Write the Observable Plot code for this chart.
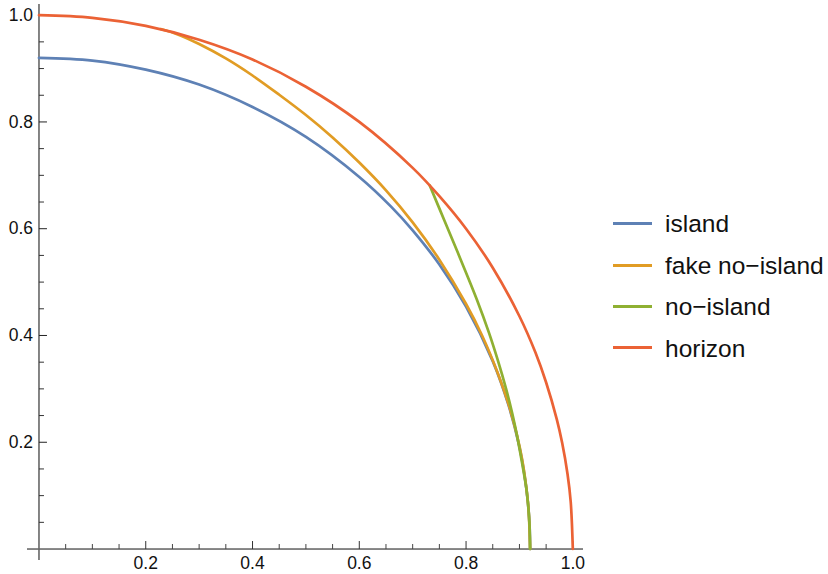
<!DOCTYPE html>
<html>
<head>
<meta charset="utf-8">
<script src="https://cdn.jsdelivr.net/npm/d3@7"></script>
<script src="https://cdn.jsdelivr.net/npm/@observablehq/plot@0.6"></script>
<style>
  body { margin: 0; background: #fff; }
  #wrap { position: relative; width: 828px; height: 574px; font-family: "Liberation Sans", Arial, sans-serif; }
  #plot { position: absolute; left: 0; top: 0; }
  #legend { position: absolute; left: 613px; top: 203px; }
  .item { display: flex; align-items: center; height: 41.4px; }
  .swatch { width: 39px; height: 3px; margin-right: 13px; }
  .label { font-size: 24.5px; color: #111; line-height: 1; position: relative; top: 1px; }
</style>
</head>
<body>
<div id="wrap"><div id="plot"></div><div id="legend"></div></div>
<script>
// Series names and colours
const seriesNames = ["island", "fake no\u2212island", "no\u2212island", "horizon"];
const seriesColors = ["#5E81B5", "#E19C24", "#8FB032", "#EB6235"];

// island
const islandX = [0, 0.1, 0.2, 0.3, 0.4, 0.5, 0.6, 0.66, 0.7, 0.75, 0.8, 0.85, 0.88, 0.9, 0.91, 0.916, 0.919, 0.92];
const islandY = [0.92, 0.915, 0.898, 0.87, 0.828, 0.772, 0.697, 0.641, 0.597, 0.533, 0.454, 0.352, 0.268, 0.191, 0.135, 0.086, 0.043, 0];

// fake no-island
const fakeX = [0.228, 0.26, 0.3, 0.35, 0.4, 0.45, 0.5, 0.55, 0.6, 0.65, 0.7, 0.75, 0.8, 0.83, 0.86, 0.88, 0.895, 0.905, 0.912, 0.917, 0.92];
const fakeY = [0.974, 0.964, 0.946, 0.919, 0.887, 0.851, 0.813, 0.771, 0.724, 0.672, 0.612, 0.542, 0.459, 0.4, 0.328, 0.27, 0.215, 0.168, 0.122, 0.075, 0];

// no-island
const noIslandX = [0.732, 0.76, 0.79, 0.82, 0.843, 0.86, 0.875, 0.887, 0.896, 0.903, 0.909, 0.913, 0.917, 0.919, 0.92];
const noIslandY = [0.681, 0.614, 0.542, 0.468, 0.405, 0.352, 0.3, 0.252, 0.21, 0.172, 0.138, 0.113, 0.074, 0.043, 0];

// horizon
const horizonX = [0, 0.1, 0.2, 0.3, 0.4, 0.5, 0.6, 0.7, 0.75, 0.8, 0.85, 0.9, 0.93, 0.95, 0.97, 0.98, 0.99, 0.996, 1.0];
const horizonY = [1, 0.995, 0.98, 0.954, 0.917, 0.866, 0.8, 0.714, 0.661, 0.6, 0.527, 0.436, 0.368, 0.312, 0.243, 0.199, 0.141, 0.089, 0];

// ticks
const xMajor = [0.2, 0.4, 0.6, 0.8, 1.0];
const xMinor = [0.05, 0.1, 0.15, 0.25, 0.3, 0.35, 0.45, 0.5, 0.55, 0.65, 0.7, 0.75, 0.85, 0.9, 0.95];
const yMajor = [0.2, 0.4, 0.6, 0.8, 1.0];
const yMinor = [0.05, 0.1, 0.15, 0.25, 0.3, 0.35, 0.45, 0.5, 0.55, 0.65, 0.7, 0.75, 0.85, 0.9, 0.95];
const tickLabels = ["0.2", "0.4", "0.6", "0.8", "1.0"];

const toPts = (xs, ys) => xs.map((x, i) => ({x, y: ys[i]}));
const series = [toPts(islandX, islandY), toPts(fakeX, fakeY), toPts(noIslandX, noIslandY), toPts(horizonX, horizonY)];

const tickSym = (dx, dy) => ({draw(ctx) { ctx.moveTo(0, 0); ctx.lineTo(dx, dy); }});

const fontFamily = "'Liberation Sans', Arial, sans-serif";

const chart = Plot.plot({
  width: 600,
  height: 574,
  marginLeft: 27,
  marginRight: 17,
  marginTop: 4,
  marginBottom: 14,
  style: {fontFamily, background: "transparent"},
  x: {domain: [-0.0215, 1.02], axis: null},
  y: {domain: [-0.0215, 1.02], axis: null},
  marks: [
    Plot.ruleY([0], {stroke: "#111", strokeWidth: 1}),
    Plot.ruleX([0], {stroke: "#666", strokeWidth: 1.6}),
    Plot.dot(xMajor, {x: d => d, y: 0, symbol: tickSym(0, -8), stroke: "#333", fill: "none", strokeWidth: 1}),
    Plot.dot(xMinor, {x: d => d, y: 0, symbol: tickSym(0, -5), stroke: "#444", fill: "none", strokeWidth: 1}),
    Plot.dot(yMajor, {x: 0, y: d => d, symbol: tickSym(8, 0), stroke: "#222", fill: "none", strokeWidth: 1}),
    Plot.dot(yMinor, {x: 0, y: d => d, symbol: tickSym(5, 0), stroke: "#333", fill: "none", strokeWidth: 1}),
    Plot.text(xMajor, {x: d => d, y: 0, text: (d, i) => tickLabels[i], dy: 14.5, fontSize: 17.5, fill: "#111"}),
    Plot.text(yMajor, {x: 0, y: d => d, text: (d, i) => tickLabels[i], dx: -6, textAnchor: "end", fontSize: 17.5, fill: "#111"}),
    ...series.map((pts, k) => Plot.line(pts, {x: "x", y: "y", stroke: seriesColors[k], strokeWidth: 2.7, curve: "catmull-rom"}))
  ]
});
document.getElementById("plot").appendChild(chart);

const legend = document.getElementById("legend");
seriesNames.forEach((name, k) => {
  const item = document.createElement("div");
  item.className = "item";
  const sw = document.createElement("div");
  sw.className = "swatch";
  sw.style.background = seriesColors[k];
  const lab = document.createElement("span");
  lab.className = "label";
  lab.textContent = name;
  item.appendChild(sw);
  item.appendChild(lab);
  legend.appendChild(item);
});
</script>
</body>
</html>
